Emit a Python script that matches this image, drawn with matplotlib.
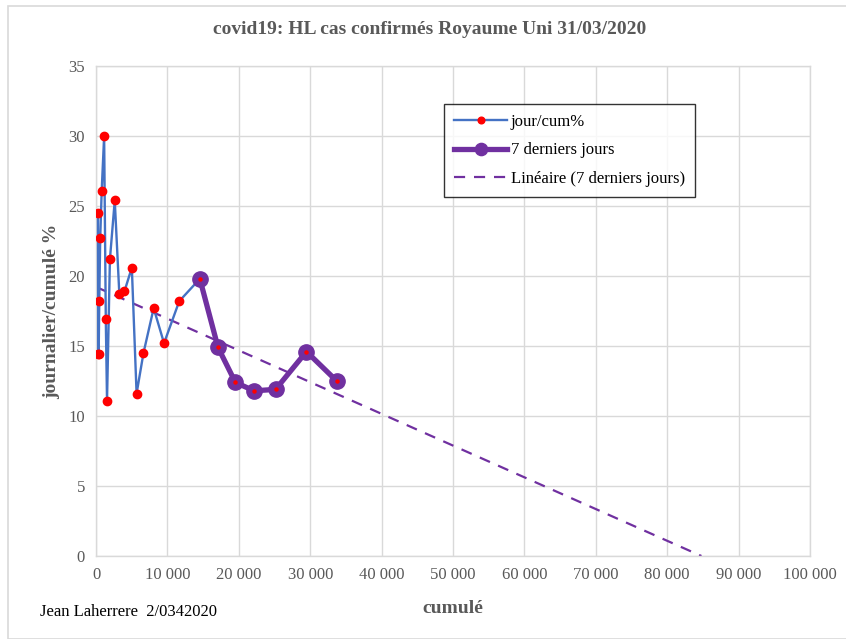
import numpy as np
import matplotlib.pyplot as plt
from matplotlib.patches import Rectangle
from matplotlib.ticker import FuncFormatter

# cumulative confirmed cases and daily/cumulative %
cumul = [273, 321, 373, 456, 590, 798, 1140, 1372, 1543, 1950, 2626, 3269,
         3983, 5018, 5683, 6650, 8077, 9529, 11658, 14543]
jour_pct = [24.5, 14.4, 14.4, 18.2, 22.7, 26.1, 30.0, 16.9, 11.1, 21.2, 25.4,
            18.7, 18.9, 20.6, 11.6, 14.5, 17.7, 15.2, 18.2, 19.8]

# last 7 days
cumul_7 = [14543, 17089, 19522, 22141, 25150, 29474, 33718]
pct_7 = [19.8, 14.9, 12.4, 11.8, 11.9, 14.6, 12.5]

W, H = 846, 639
fig = plt.figure(figsize=(W / 100, H / 100), dpi=100)
plt.rcParams['font.family'] = ['Liberation Serif', 'DejaVu Serif']

# chart area border (Excel style)
fig.patches.append(Rectangle((8 / W, 0), 1.0, 1 - 6 / H, transform=fig.transFigure,
                             fill=False, edgecolor='#d9d9d9', lw=1.2))

ax = fig.add_axes([96 / W, 1 - 556 / H, (810 - 96) / W, (556 - 66) / H])

grid_col = '#d9d9d9'
txt_col = '#595959'

ax.plot(cumul, jour_pct, color='#4472C4', lw=1.7, marker='o', ms=6,
        markerfacecolor='red', markeredgecolor='red', label='jour/cum%', zorder=3)
ax.plot(cumul_7, pct_7, color='#7030A0', lw=3.8, marker='o', ms=11,
        markerfacecolor='#7030A0', markeredgecolor='#7030A0', label='7 derniers jours',
        zorder=4)
ax.plot(cumul_7, pct_7, ls='none', marker='o', ms=2.2, color='red', zorder=5)

# linear trend on last 7 days, extended to zero
slope, icpt = np.polyfit(cumul_7, pct_7, 1)
x0 = -icpt / slope
xs = np.array([0, x0])
ax.plot(xs, icpt + slope * xs, color='#7030A0', lw=1.6, ls=(0, (5, 4)),
        label='Linéaire (7 derniers jours)', zorder=2)

ax.set_xlim(0, 100000)
ax.set_ylim(0, 35)
ax.set_xticks(np.arange(0, 100001, 10000))
ax.set_yticks(np.arange(0, 36, 5))
ax.xaxis.set_major_formatter(FuncFormatter(lambda v, p: f'{int(v):,}'.replace(',', ' ')))
ax.grid(True, color=grid_col, lw=1.0)
ax.set_axisbelow(True)
for s in ax.spines.values():
    s.set_color(grid_col)
    s.set_linewidth(1.0)
ax.tick_params(length=0, labelsize=12, colors=txt_col, pad=8)

ax.set_ylabel('journalier/cumulé %', fontsize=14, fontweight='bold', color=txt_col, labelpad=6)
ax.set_xlabel('cumulé', fontsize=14, fontweight='bold', color=txt_col, labelpad=12)
fig.text(430 / W, 1 - 30 / H, 'covid19: HL cas confirmés Royaume Uni 31/03/2020',
         ha='center', va='center', fontsize=14, fontweight='bold', color=txt_col)
fig.text(40 / W, 1 - 612 / H, 'Jean Laherrere  2/0342020', ha='left', va='center',
         fontsize=12, color='black')

leg = ax.legend(loc='upper left', bbox_to_anchor=((444 - 96) / (810 - 96), (556 - 104) / (556 - 66)),
                fontsize=12, frameon=True, fancybox=False, edgecolor='black',
                handlelength=3.2, labelspacing=0.75, borderpad=0.6, handletextpad=0.2,
                borderaxespad=0, markerscale=0.8)
leg.get_frame().set_linewidth(1.0)

fig.savefig('out.png', dpi=100)
